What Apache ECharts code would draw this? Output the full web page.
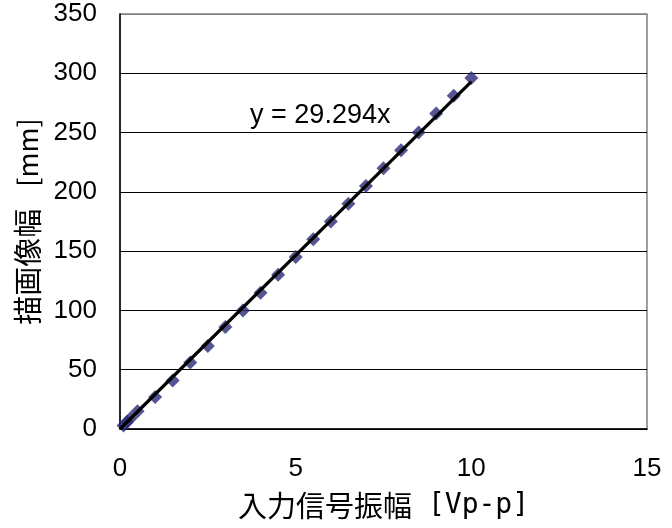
<!DOCTYPE html>
<html>
<head>
<meta charset="utf-8">
<script src="https://cdn.jsdelivr.net/npm/echarts@6/dist/echarts.min.js"></script>
<style>html,body{margin:0;padding:0;background:#fff;}#c{width:672px;height:528px;}</style>
</head>
<body>
<div id="c"></div>
<script>
const xValues = [0.1, 0.2, 0.3, 0.5, 1, 1.5, 2, 2.5, 3, 3.5, 4, 4.5, 5, 5.5, 6, 6.5, 7, 7.5, 8, 8.5, 9, 9.5, 10];
const yValues = [3, 6, 9, 15, 27, 41, 56, 70, 86, 100, 115, 130, 145, 160, 175, 190, 205, 220, 235, 250, 266, 281, 296];
const trendSlope = 29.294;
const trendLabel = 'y = 29.294x';
const xTitleMain = '入力信号振幅';
const xTitleUnit = '[Vp-p]';
const yTitleMain = '描画像幅';
const yTitleUnit = '[mm]';
const labelAt = [5.7, 264];

const points = xValues.map((x, i) => [x, yValues[i]]);
const xMaxData = Math.max(...xValues);
const trend = [[0, 0], [xMaxData, trendSlope * xMaxData]];

const chart = echarts.init(document.getElementById('c'));
const tickFont = { fontFamily: 'Liberation Sans, Arial, sans-serif', fontSize: 26, color: '#000' };
const titleRich = {
  c: { fontFamily: 'Noto Sans CJK JP', fontSize: 29, color: '#000' },
  g: { width: 16, fontSize: 29 },
  gy: { width: 22, fontSize: 29 },
  l: { fontFamily: 'DejaVu Sans Mono, Liberation Mono, monospace', fontSize: 28, color: '#000' },
  m: { fontFamily: 'Noto Sans CJK JP', fontSize: 27, color: '#000' }
};
chart.setOption({
  animation: false,
  backgroundColor: '#fff',
  grid: { left: 120, top: 14, right: 25, bottom: 99, show: true, borderColor: '#808080', borderWidth: 1.5, backgroundColor: 'transparent' },
  xAxis: {
    type: 'value', min: 0, max: 15, interval: 5,
    name: '{c|' + xTitleMain + '}{g|}{l|' + xTitleUnit + '}', nameLocation: 'middle', nameGap: 62,
    nameTextStyle: { rich: titleRich },
    axisLine: { show: true, lineStyle: { color: '#000', width: 1.5 } },
    axisTick: { show: false },
    splitLine: { show: false },
    axisLabel: Object.assign({ margin: 27 }, tickFont)
  },
  yAxis: {
    type: 'value', min: 0, max: 350, interval: 50,
    name: '{c|' + yTitleMain + '}{gy|}{m|' + yTitleUnit + '}', nameLocation: 'middle', nameGap: 76, nameRotate: 90,
    nameTextStyle: { rich: titleRich },
    axisLine: { show: true, lineStyle: { color: '#000', width: 1.5 } },
    axisTick: { show: false },
    splitLine: { show: true, lineStyle: { color: ['#000','#000','#000','#000','#000','#000','#000','#808080'], width: 1.2 } },
    axisLabel: Object.assign({ margin: 23 }, tickFont)
  },
  series: [
    {
      type: 'scatter', data: points, symbol: 'diamond', symbolSize: 14,
      itemStyle: { color: '#2a2a78' }, z: 2
    },
    {
      type: 'line', data: trend, symbol: 'none', z: 3,
      lineStyle: { color: '#000', width: 3.2 },
      markPoint: {
        symbol: 'circle', symbolSize: 1, itemStyle: { color: 'transparent' },
        data: [{ coord: labelAt }],
        label: { show: true, position: 'inside', formatter: trendLabel, fontFamily: 'Liberation Sans, Arial, sans-serif', fontSize: 27, color: '#000' }
      }
    }
  ]
});
</script>
</body>
</html>
